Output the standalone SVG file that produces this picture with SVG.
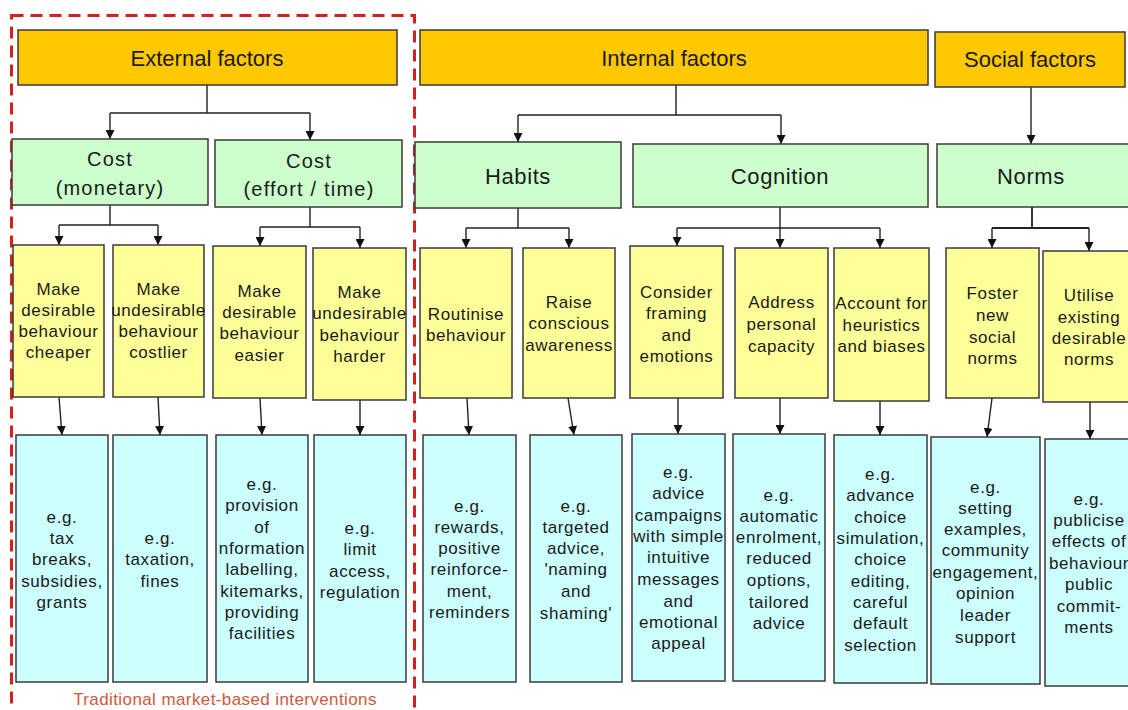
<svg xmlns="http://www.w3.org/2000/svg" width="1128" height="710" viewBox="0 0 1128 710">
<style>
text{font-family:"Liberation Sans",Arial,sans-serif;fill:#1a1a1a;text-anchor:middle}
.h{fill:#FFC800;stroke:#3a3a3a;stroke-width:1.5}
.g{fill:#CCFFCC;stroke:#3a3a3a;stroke-width:1.5}
.y{fill:#FFFF99;stroke:#3a3a3a;stroke-width:1.5}
.c{fill:#CCFFFF;stroke:#3a3a3a;stroke-width:1.5}
.th{font-size:22px}
.tg{font-size:22px;letter-spacing:0.6px}
.tc{font-size:20px;letter-spacing:1.2px}
.t{font-size:17px;letter-spacing:0.6px}
.ln{fill:none;stroke:#222;stroke-width:1.4}
.ar{fill:none;stroke:#222;stroke-width:1.4;marker-end:url(#ah)}
</style>
<defs>
<marker id="ah" viewBox="0 0 10 10" refX="10" refY="5" markerWidth="9" markerHeight="9" markerUnits="userSpaceOnUse" orient="auto">
<path d="M0,0 L10,5 L0,10 z" fill="#111"/>
</marker>
</defs>
<rect width="1128" height="710" fill="#ffffff"/>

<g id="traditional-boundary">
<rect x="11.5" y="15.5" width="403" height="720" fill="none" stroke="#D42020" stroke-width="3" stroke-dasharray="12 7"/>
<text x="225" y="705" style="font-size:17px;letter-spacing:0.4px;fill:#D2583A">Traditional market-based interventions</text>
</g>

<g id="connectors">
<path class="ln" d="M207,85 V113 M110,113 H310"/>
<path class="ar" d="M110,113 V139"/>
<path class="ar" d="M310,113 V140"/>
<path class="ln" d="M676,85 V115 M518,115 H781"/>
<path class="ar" d="M518,115 V142"/>
<path class="ar" d="M781,115 V144"/>
<path class="ar" d="M1031,87 V144"/>

<path class="ln" d="M110,205 V225 M59,225 H158"/>
<path class="ar" d="M59,225 V245"/>
<path class="ar" d="M158,225 V245"/>
<path class="ln" d="M310,207 V227 M260,227 H360"/>
<path class="ar" d="M260,227 V246"/>
<path class="ar" d="M360,227 V248"/>
<path class="ln" d="M518,208 V228 M466,228 H569"/>
<path class="ar" d="M466,228 V248"/>
<path class="ar" d="M569,228 V248"/>
<path class="ln" d="M780,207 V228 M677,228 H880"/>
<path class="ar" d="M677,228 V246"/>
<path class="ar" d="M780,228 V248"/>
<path class="ar" d="M880,228 V248"/>
<path class="ln" d="M1032,207 V228 M992,228 H1089" style="stroke-width:1.8"/>
<path class="ar" d="M992,228 V248"/>
<path class="ar" d="M1089,228 V251"/>

<path class="ar" d="M59,397 L62,435"/>
<path class="ar" d="M158,397 L160,435"/>
<path class="ar" d="M260,398 L262,435"/>
<path class="ar" d="M360,400 L360,435"/>
<path class="ar" d="M467,398 L469,435"/>
<path class="ar" d="M568,398 L574,435"/>
<path class="ar" d="M678,398 L678,434"/>
<path class="ar" d="M780,398 L780,434"/>
<path class="ar" d="M880,401 L880,435"/>
<path class="ar" d="M992,398 L987,437"/>
<path class="ar" d="M1090,402 L1090,439"/>
</g>

<g id="external-factors"><rect class="h" x="18" y="30" width="379" height="55"/><text class="th" x="207" y="66">External factors</text></g>
<g id="internal-factors"><rect class="h" x="420" y="30" width="508" height="55"/><text class="th" x="674" y="66">Internal factors</text></g>
<g id="social-factors"><rect class="h" x="935" y="32" width="190" height="55"/><text class="th" x="1030" y="67">Social factors</text></g>

<g id="cost-monetary"><rect class="g" x="12" y="139" width="196" height="66"/><text class="tc"><tspan x="110" y="166">Cost</tspan><tspan x="110" y="195">(monetary)</tspan></text></g>
<g id="cost-effort"><rect class="g" x="215" y="140" width="187" height="67"/><text class="tc"><tspan x="309" y="168">Cost</tspan><tspan x="309" y="196">(effort / time)</tspan></text></g>
<g id="habits"><rect class="g" x="415" y="142" width="206" height="66"/><text class="tg" x="518" y="184">Habits</text></g>
<g id="cognition"><rect class="g" x="633" y="144" width="295" height="63"/><text class="tg" x="780" y="184">Cognition</text></g>
<g id="norms"><rect class="g" x="937" y="144" width="200" height="63"/><text class="tg" x="1031" y="184">Norms</text></g>

<g id="cheaper"><rect class="y" x="13" y="245" width="91" height="152"/><text class="t"><tspan x="58.5" y="295">Make</tspan><tspan x="58.5" y="316">desirable</tspan><tspan x="58.5" y="337">behaviour</tspan><tspan x="58.5" y="358">cheaper</tspan></text></g>
<g id="costlier"><rect class="y" x="113" y="245" width="91" height="152"/><text class="t"><tspan x="158.5" y="295">Make</tspan><tspan x="158.5" y="316">undesirable</tspan><tspan x="158.5" y="337">behaviour</tspan><tspan x="158.5" y="358">costlier</tspan></text></g>
<g id="easier"><rect class="y" x="213" y="246" width="93" height="152"/><text class="t"><tspan x="259.5" y="297">Make</tspan><tspan x="259.5" y="318">desirable</tspan><tspan x="259.5" y="339">behaviour</tspan><tspan x="259.5" y="361">easier</tspan></text></g>
<g id="harder"><rect class="y" x="313" y="248" width="93" height="152"/><text class="t"><tspan x="359.5" y="298">Make</tspan><tspan x="359.5" y="319">undesirable</tspan><tspan x="359.5" y="341">behaviour</tspan><tspan x="359.5" y="362">harder</tspan></text></g>
<g id="routinise"><rect class="y" x="420" y="248" width="92" height="150"/><text class="t"><tspan x="466" y="320">Routinise</tspan><tspan x="466" y="341">behaviour</tspan></text></g>
<g id="raise"><rect class="y" x="523" y="248" width="92" height="150"/><text class="t"><tspan x="569" y="308">Raise</tspan><tspan x="569" y="329">conscious</tspan><tspan x="569" y="351">awareness</tspan></text></g>
<g id="consider"><rect class="y" x="630" y="246" width="93" height="152"/><text class="t"><tspan x="676.5" y="298">Consider</tspan><tspan x="676.5" y="319">framing</tspan><tspan x="676.5" y="341">and</tspan><tspan x="676.5" y="362">emotions</tspan></text></g>
<g id="address"><rect class="y" x="735" y="248" width="93" height="150"/><text class="t"><tspan x="781.5" y="308">Address</tspan><tspan x="781.5" y="330">personal</tspan><tspan x="781.5" y="352">capacity</tspan></text></g>
<g id="account"><rect class="y" x="834" y="248" width="95" height="153"/><text class="t"><tspan x="881.5" y="309">Account for</tspan><tspan x="881.5" y="331">heuristics</tspan><tspan x="881.5" y="352">and biases</tspan></text></g>
<g id="foster"><rect class="y" x="946" y="248" width="93" height="150"/><text class="t"><tspan x="992.5" y="299">Foster</tspan><tspan x="992.5" y="321">new</tspan><tspan x="992.5" y="343">social</tspan><tspan x="992.5" y="364">norms</tspan></text></g>
<g id="utilise"><rect class="y" x="1043" y="251" width="95" height="151"/><text class="t"><tspan x="1089" y="301">Utilise</tspan><tspan x="1089" y="323">existing</tspan><tspan x="1089" y="344">desirable</tspan><tspan x="1089" y="365">norms</tspan></text></g>

<g id="eg-tax"><rect class="c" x="16" y="435" width="92" height="247"/><text class="t"><tspan x="62" y="523">e.g.</tspan><tspan x="62" y="544">tax</tspan><tspan x="62" y="565">breaks,</tspan><tspan x="62" y="587">subsidies,</tspan><tspan x="62" y="608">grants</tspan></text></g>
<g id="eg-taxation"><rect class="c" x="113" y="435" width="94" height="247"/><text class="t"><tspan x="160" y="544">e.g.</tspan><tspan x="160" y="565">taxation,</tspan><tspan x="160" y="587">fines</tspan></text></g>
<g id="eg-provision"><rect class="c" x="216" y="435" width="92" height="247"/><text class="t"><tspan x="262" y="490">e.g.</tspan><tspan x="262" y="511">provision</tspan><tspan x="262" y="533">of</tspan><tspan x="262" y="554">nformation</tspan><tspan x="262" y="575">labelling,</tspan><tspan x="262" y="597">kitemarks,</tspan><tspan x="262" y="618">providing</tspan><tspan x="262" y="639">facilities</tspan></text></g>
<g id="eg-limit"><rect class="c" x="314" y="435" width="92" height="247"/><text class="t"><tspan x="360" y="534">e.g.</tspan><tspan x="360" y="555">limit</tspan><tspan x="360" y="577">access,</tspan><tspan x="360" y="598">regulation</tspan></text></g>
<g id="eg-rewards"><rect class="c" x="423" y="435" width="93" height="247"/><text class="t"><tspan x="469.5" y="512">e.g.</tspan><tspan x="469.5" y="533">rewards,</tspan><tspan x="469.5" y="554">positive</tspan><tspan x="469.5" y="575">reinforce-</tspan><tspan x="469.5" y="597">ment,</tspan><tspan x="469.5" y="618">reminders</tspan></text></g>
<g id="eg-targeted"><rect class="c" x="530" y="435" width="92" height="247"/><text class="t"><tspan x="576" y="512">e.g.</tspan><tspan x="576" y="533">targeted</tspan><tspan x="576" y="554">advice,</tspan><tspan x="576" y="575">'naming</tspan><tspan x="576" y="597">and</tspan><tspan x="576" y="619">shaming'</tspan></text></g>
<g id="eg-advice"><rect class="c" x="632" y="434" width="93" height="247"/><text class="t"><tspan x="678.5" y="478">e.g.</tspan><tspan x="678.5" y="499">advice</tspan><tspan x="678.5" y="521">campaigns</tspan><tspan x="678.5" y="542">with simple</tspan><tspan x="678.5" y="563">intuitive</tspan><tspan x="678.5" y="585">messages</tspan><tspan x="678.5" y="607">and</tspan><tspan x="678.5" y="628">emotional</tspan><tspan x="678.5" y="649">appeal</tspan></text></g>
<g id="eg-automatic"><rect class="c" x="733" y="434" width="92" height="247"/><text class="t"><tspan x="779" y="501">e.g.</tspan><tspan x="779" y="522">automatic</tspan><tspan x="779" y="543">enrolment,</tspan><tspan x="779" y="564">reduced</tspan><tspan x="779" y="586">options,</tspan><tspan x="779" y="608">tailored</tspan><tspan x="779" y="629">advice</tspan></text></g>
<g id="eg-advance"><rect class="c" x="834" y="435" width="93" height="248"/><text class="t"><tspan x="880.5" y="480">e.g.</tspan><tspan x="880.5" y="501">advance</tspan><tspan x="880.5" y="523">choice</tspan><tspan x="880.5" y="544">simulation,</tspan><tspan x="880.5" y="565">choice</tspan><tspan x="880.5" y="587">editing,</tspan><tspan x="880.5" y="608">careful</tspan><tspan x="880.5" y="629">default</tspan><tspan x="880.5" y="651">selection</tspan></text></g>
<g id="eg-setting"><rect class="c" x="931" y="437" width="109" height="247"/><text class="t"><tspan x="985.5" y="493">e.g.</tspan><tspan x="985.5" y="514">setting</tspan><tspan x="985.5" y="535">examples,</tspan><tspan x="985.5" y="556">community</tspan><tspan x="985.5" y="578">engagement,</tspan><tspan x="985.5" y="599">opinion</tspan><tspan x="985.5" y="621">leader</tspan><tspan x="985.5" y="643">support</tspan></text></g>
<g id="eg-publicise"><rect class="c" x="1045" y="439" width="95" height="247"/><text class="t"><tspan x="1089" y="505">e.g.</tspan><tspan x="1089" y="526">publicise</tspan><tspan x="1089" y="547">effects of</tspan><tspan x="1089" y="569">behaviour</tspan><tspan x="1089" y="590">public</tspan><tspan x="1089" y="612">commit-</tspan><tspan x="1089" y="633">ments</tspan></text></g>
</svg>
